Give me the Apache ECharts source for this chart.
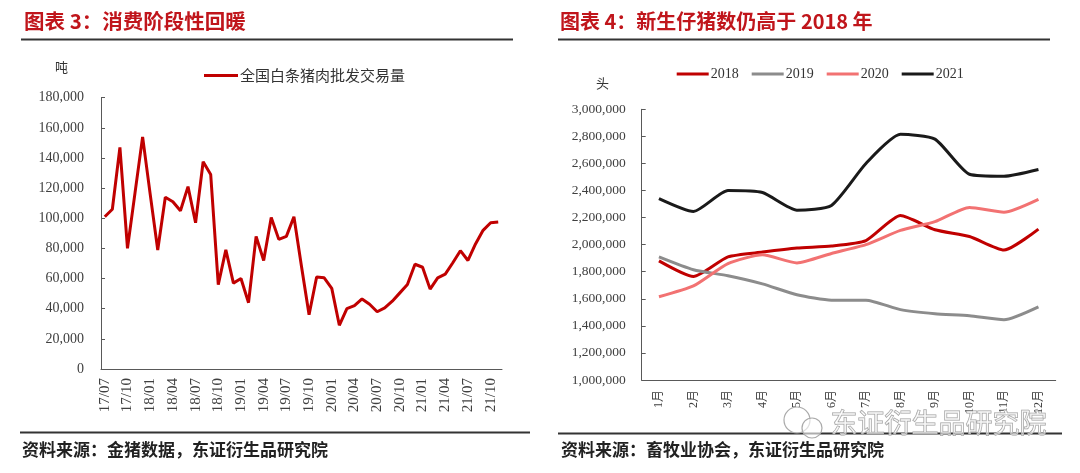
<!DOCTYPE html>
<html>
<head>
<meta charset="utf-8">
<script src="https://cdn.jsdelivr.net/npm/echarts@6/dist/echarts.min.js"></script>
<style>
html,body{margin:0;padding:0;background:#fff;}
#c{width:1080px;height:473px;}
</style>
</head>
<body>
<div id="c"></div>
<script>
// ---------- Data: left chart (全国白条猪肉批发交易量, 吨) ----------
const leftCategories = [
  '17/07','17/08','17/09','17/10','17/11','17/12',
  '18/01','18/02','18/03','18/04','18/05','18/06','18/07','18/08','18/09','18/10','18/11','18/12',
  '19/01','19/02','19/03','19/04','19/05','19/06','19/07','19/08','19/09','19/10','19/11','19/12',
  '20/01','20/02','20/03','20/04','20/05','20/06','20/07','20/08','20/09','20/10','20/11','20/12',
  '21/01','21/02','21/03','21/04','21/05','21/06','21/07','21/08','21/09','21/10','21/11'
];
const leftSeriesName = '全国白条猪肉批发交易量';
const leftValues = [
  101000, 106000, 147000, 80000, 117000, 154000,
  116000, 79000, 114000, 111000, 105000, 121000, 97000, 137500, 129000, 56000, 79000, 57000,
  60000, 44000, 88000, 72000, 100500, 86000, 88000, 101000, 68000, 36000, 61000, 60500,
  53500, 29000, 40000, 42000, 46500, 43000, 38000, 40500, 45000, 50500, 56000, 69500,
  67500, 53000, 60500, 63000, 70500, 78500, 72000, 83000, 92000, 97000, 97500
];
const leftYTicks = { min: 0, max: 180000, interval: 20000 };

// ---------- Data: right chart (新生仔猪数, 头) ----------
const rightCategories = ['1月','2月','3月','4月','5月','6月','7月','8月','9月','10月','11月','12月'];
const years = ['2018','2019','2020','2021'];
const v2018 = [1880000, 1765000, 1910000, 1945000, 1975000, 1990000, 2030000, 2215000, 2110000, 2060000, 1960000, 2115000];
const v2019 = [1910000, 1815000, 1770000, 1710000, 1630000, 1590000, 1590000, 1520000, 1490000, 1475000, 1445000, 1540000];
const v2020 = [1615000, 1695000, 1860000, 1925000, 1865000, 1935000, 2000000, 2105000, 2170000, 2275000, 2240000, 2335000];
const v2021 = [2340000, 2245000, 2400000, 2385000, 2255000, 2290000, 2600000, 2815000, 2780000, 2520000, 2505000, 2555000];
const rightYTicks = { min: 1000000, max: 3000000, interval: 200000 };

// ---------- Styles ----------
const serif = '"Liberation Serif","Times New Roman","Noto Sans CJK SC",serif';
const cjk = '"Noto Sans CJK SC","Noto Sans",sans-serif';
const axisGray = '#595959';
const labelGray = '#404040';
const titleRed = '#c0151b';
const yearColors = ['#c00000', '#8c8c8c', '#f27272', '#1a1a1a'];

const fmt = v => v.toLocaleString('en-US');

const chart = echarts.init(document.getElementById('c'), null, {renderer: 'canvas'});

const rightData = [v2018, v2019, v2020, v2021];

const option = {
  backgroundColor: '#fff',
  animation: false,
  grid: [
    {left: 101, top: 97.7, width: 401, height: 271.3, containLabel: false},
    {left: 641.7, top: 109.3, width: 414, height: 270.7, containLabel: false}
  ],
  legend: [
    {
      data: [leftSeriesName],
      left: 199, top: 63,
      icon: 'rect', itemWidth: 34, itemHeight: 3,
      textStyle: {fontFamily: cjk, fontSize: 15, color: '#333', padding: [0,0,0,-3]},
      selectedMode: false
    },
    {
      data: years,
      left: 671.7, top: 62,
      icon: 'rect', itemWidth: 32, itemHeight: 3, itemGap: 13,
      textStyle: {fontFamily: serif, fontSize: 14, color: '#333', padding: [0,0,0,-3]},
      selectedMode: false
    }
  ],
  xAxis: [
    {
      type: 'category', gridIndex: 0, data: leftCategories, boundaryGap: true,
      axisLine: {lineStyle: {color: axisGray, width: 1}},
      axisTick: {inside: true, length: 4, interval: 2, lineStyle: {color: axisGray}},
      axisLabel: {interval: 2, rotate: 90, margin: 9, fontFamily: serif, fontSize: 15, color: labelGray},
      splitLine: {show: false}
    },
    {
      type: 'category', gridIndex: 1, data: rightCategories, boundaryGap: true,
      axisLine: {lineStyle: {color: axisGray, width: 1}},
      axisTick: {inside: true, length: 4, lineStyle: {color: axisGray}},
      axisLabel: {interval: 0, rotate: 90, margin: 10, fontFamily: serif, fontSize: 12, color: labelGray},
      splitLine: {show: false}
    }
  ],
  yAxis: [
    {
      type: 'value', gridIndex: 0, min: leftYTicks.min, max: leftYTicks.max, interval: leftYTicks.interval,
      axisLine: {show: true, lineStyle: {color: axisGray, width: 1}},
      axisTick: {show: true, inside: true, length: 4, lineStyle: {color: axisGray}},
      axisLabel: {margin: 17, fontFamily: serif, fontSize: 14, color: labelGray, formatter: fmt},
      splitLine: {show: false}
    },
    {
      type: 'value', gridIndex: 1, min: rightYTicks.min, max: rightYTicks.max, interval: rightYTicks.interval,
      axisLine: {show: true, lineStyle: {color: axisGray, width: 1}},
      axisTick: {show: true, inside: true, length: 4, lineStyle: {color: axisGray}},
      axisLabel: {margin: 16, fontFamily: serif, fontSize: 13.5, color: labelGray, formatter: fmt},
      splitLine: {show: false}
    }
  ],
  series: [
    {
      name: leftSeriesName, type: 'line', xAxisIndex: 0, yAxisIndex: 0,
      data: leftValues, showSymbol: false, symbol: 'none',
      lineStyle: {color: '#c00000', width: 3}, itemStyle: {color: '#c00000'}
    }
  ].concat(years.map((y, i) => ({
    name: y, type: 'line', xAxisIndex: 1, yAxisIndex: 1,
    data: rightData[i], showSymbol: false, symbol: 'none', smooth: 0.2,
    lineStyle: {color: yearColors[i], width: 3}, itemStyle: {color: yearColors[i]},
    z: i === 3 ? 5 : 3
  }))),
  graphic: [
    // titles
    {type: 'text', left: 24, top: 11, style: {text: '图表 3：消费阶段性回暖', fill: titleRed, font: 'bold 20.5px ' + cjk}},
    {type: 'text', left: 560, top: 11, style: {text: '图表 4：新生仔猪数仍高于 2018 年', fill: titleRed, font: 'bold 20px ' + cjk}},
    // title underlines
    {type: 'line', shape: {x1: 21, y1: 39.5, x2: 513, y2: 39.5}, style: {stroke: '#333', lineWidth: 2}},
    {type: 'line', shape: {x1: 558, y1: 39.5, x2: 1050, y2: 39.5}, style: {stroke: '#333', lineWidth: 2}},
    // footer lines
    {type: 'line', shape: {x1: 20, y1: 432.5, x2: 530, y2: 432.5}, style: {stroke: '#333', lineWidth: 2}},
    {type: 'line', shape: {x1: 558, y1: 433.5, x2: 1062, y2: 433.5}, style: {stroke: '#333', lineWidth: 2}},
    // footers
    {type: 'text', left: 22, top: 441, style: {text: '资料来源：金猪数据，东证衍生品研究院', fill: '#222', font: 'bold 17px ' + cjk}},
    {type: 'text', left: 561, top: 441, style: {text: '资料来源：畜牧业协会，东证衍生品研究院', fill: '#222', font: 'bold 17px ' + cjk}},
    // units
    {type: 'text', left: 55, top: 61, style: {text: '吨', fill: '#333', font: '13px ' + cjk}},
    {type: 'text', left: 596, top: 77, style: {text: '头', fill: '#333', font: '13px ' + cjk}},
    // watermark
    {type: 'circle', shape: {cx: 797, cy: 420, r: 13}, style: {fill: 'rgba(255,255,255,0.6)', stroke: '#aaa', lineWidth: 1.2}, z: 100},
    {type: 'circle', shape: {cx: 812, cy: 428, r: 10}, style: {fill: 'rgba(255,255,255,0.6)', stroke: '#aaa', lineWidth: 1.2}, z: 100},
    {type: 'text', left: 830, top: 409, z: 100, style: {text: '东证衍生品研究院', fill: 'rgba(255,255,255,0.55)', stroke: '#9a9a9a', lineWidth: 1, font: '27px ' + cjk}}
  ]
};
chart.setOption(option);
</script>
</body>
</html>
